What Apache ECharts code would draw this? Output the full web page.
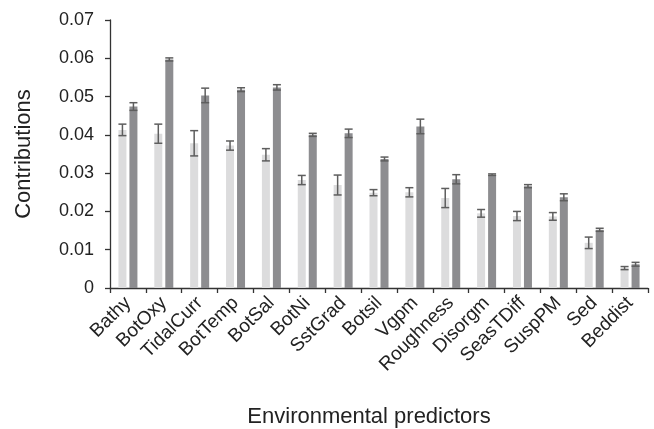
<!DOCTYPE html>
<html>
<head>
<meta charset="utf-8">
<script src="https://cdn.jsdelivr.net/npm/echarts@6/dist/echarts.min.js"></script>
<style>
  html, body { margin: 0; padding: 0; background: #fff; }
  #chart { width: 654px; height: 429px; }
</style>
</head>
<body>
<div id="chart"></div>
<script>
// predictors, in plot order
const predictors = ['Bathy', 'BotOxy', 'TidalCurr', 'BotTemp', 'BotSal', 'BotNi', 'SstGrad', 'Botsil',
  'Vgpm', 'Roughness', 'Disorgm', 'SeasTDiff', 'SuspPM', 'Sed', 'Beddist'];

// light bars
const lightMean = [0.0413, 0.0403, 0.0378, 0.0372, 0.0348, 0.0282, 0.0269, 0.0249,
  0.0250, 0.0235, 0.0195, 0.0188, 0.0187, 0.0118, 0.0052];
const lightErr = [0.0015, 0.0025, 0.0033, 0.0012, 0.0016, 0.0012, 0.0026, 0.0008,
  0.0012, 0.0025, 0.0010, 0.0012, 0.0010, 0.0015, 0.0004];

// dark bars
const darkMean = [0.0474, 0.0597, 0.0503, 0.0518, 0.0524, 0.0400, 0.0404, 0.0337,
  0.0422, 0.0284, 0.0296, 0.0266, 0.0237, 0.0152, 0.0062];
const darkErr = [0.0010, 0.0004, 0.0019, 0.0005, 0.0007, 0.0004, 0.0011, 0.0005,
  0.0019, 0.0012, 0.0002, 0.0004, 0.0009, 0.0004, 0.0005];

const yTicks = [0, 0.01, 0.02, 0.03, 0.04, 0.05, 0.06, 0.07];

const chart = echarts.init(document.getElementById('chart'));

const BAR_W = 8;
const GAP = 3;

function errorSeries(means, errs, side) {
  return {
    type: 'custom',
    z: 10,
    data: means.map((m, i) => [i, m - errs[i], m + errs[i]]),
    renderItem: (params, api) => {
      const idx = api.value(0);
      const lo = api.coord([idx, api.value(1)]);
      const hi = api.coord([idx, api.value(2)]);
      const x = lo[0] + side * (BAR_W + GAP) / 2;
      const half = 4;
      const style = { stroke: '#5e5e5e', lineWidth: 1.5 };
      return {
        type: 'group',
        children: [
          { type: 'line', shape: { x1: x, y1: lo[1], x2: x, y2: hi[1] }, style },
          { type: 'line', shape: { x1: x - half, y1: lo[1], x2: x + half, y2: lo[1] }, style },
          { type: 'line', shape: { x1: x - half, y1: hi[1], x2: x + half, y2: hi[1] }, style }
        ]
      };
    }
  };
}

const font = 'Liberation Sans, Arial, sans-serif';
const ink = '#222';

chart.setOption({
  animation: false,
  grid: { left: 110, right: 6, top: 20, bottom: 141, containLabel: false, outerBoundsMode: 'none' },
  xAxis: {
    type: 'category',
    data: predictors,
    name: 'Environmental predictors',
    nameLocation: 'middle',
    nameGap: 118,
    nameTextStyle: { fontFamily: font, fontSize: 22, color: ink, padding: [0, 20, 0, 0] },
    axisLine: { lineStyle: { color: '#333', width: 1.3 } },
    axisTick: { show: true, length: 5, lineStyle: { color: '#333', width: 1.3 } },
    axisLabel: { rotate: 45, fontFamily: font, fontSize: 19, color: ink, margin: 12, interval: 0 }
  },
  yAxis: {
    type: 'value',
    min: 0,
    max: 0.07,
    interval: 0.01,
    name: 'Contributions',
    nameLocation: 'middle',
    nameGap: 75,
    nameTextStyle: { fontFamily: font, fontSize: 22, color: ink },
    splitLine: { show: false },
    axisLine: { show: true, lineStyle: { color: '#333', width: 1.3 } },
    axisTick: { show: true, length: 5, lineStyle: { color: '#333', width: 1.3 } },
    axisLabel: {
      fontFamily: font, fontSize: 18, color: ink, margin: 16,
      formatter: v => (v === 0 ? '0' : yTicks.includes(Math.round(v * 100) / 100) ? v.toFixed(2) : '')
    }
  },
  series: [
    {
      type: 'bar',
      data: lightMean,
      barWidth: BAR_W,
      barGap: (GAP / BAR_W * 100) + '%',
      itemStyle: { color: '#dcdcdd' }
    },
    {
      type: 'bar',
      data: darkMean,
      barWidth: BAR_W,
      itemStyle: { color: '#8d8d90' }
    },
    errorSeries(lightMean, lightErr, -1),
    errorSeries(darkMean, darkErr, 1)
  ]
});
</script>
</body>
</html>
